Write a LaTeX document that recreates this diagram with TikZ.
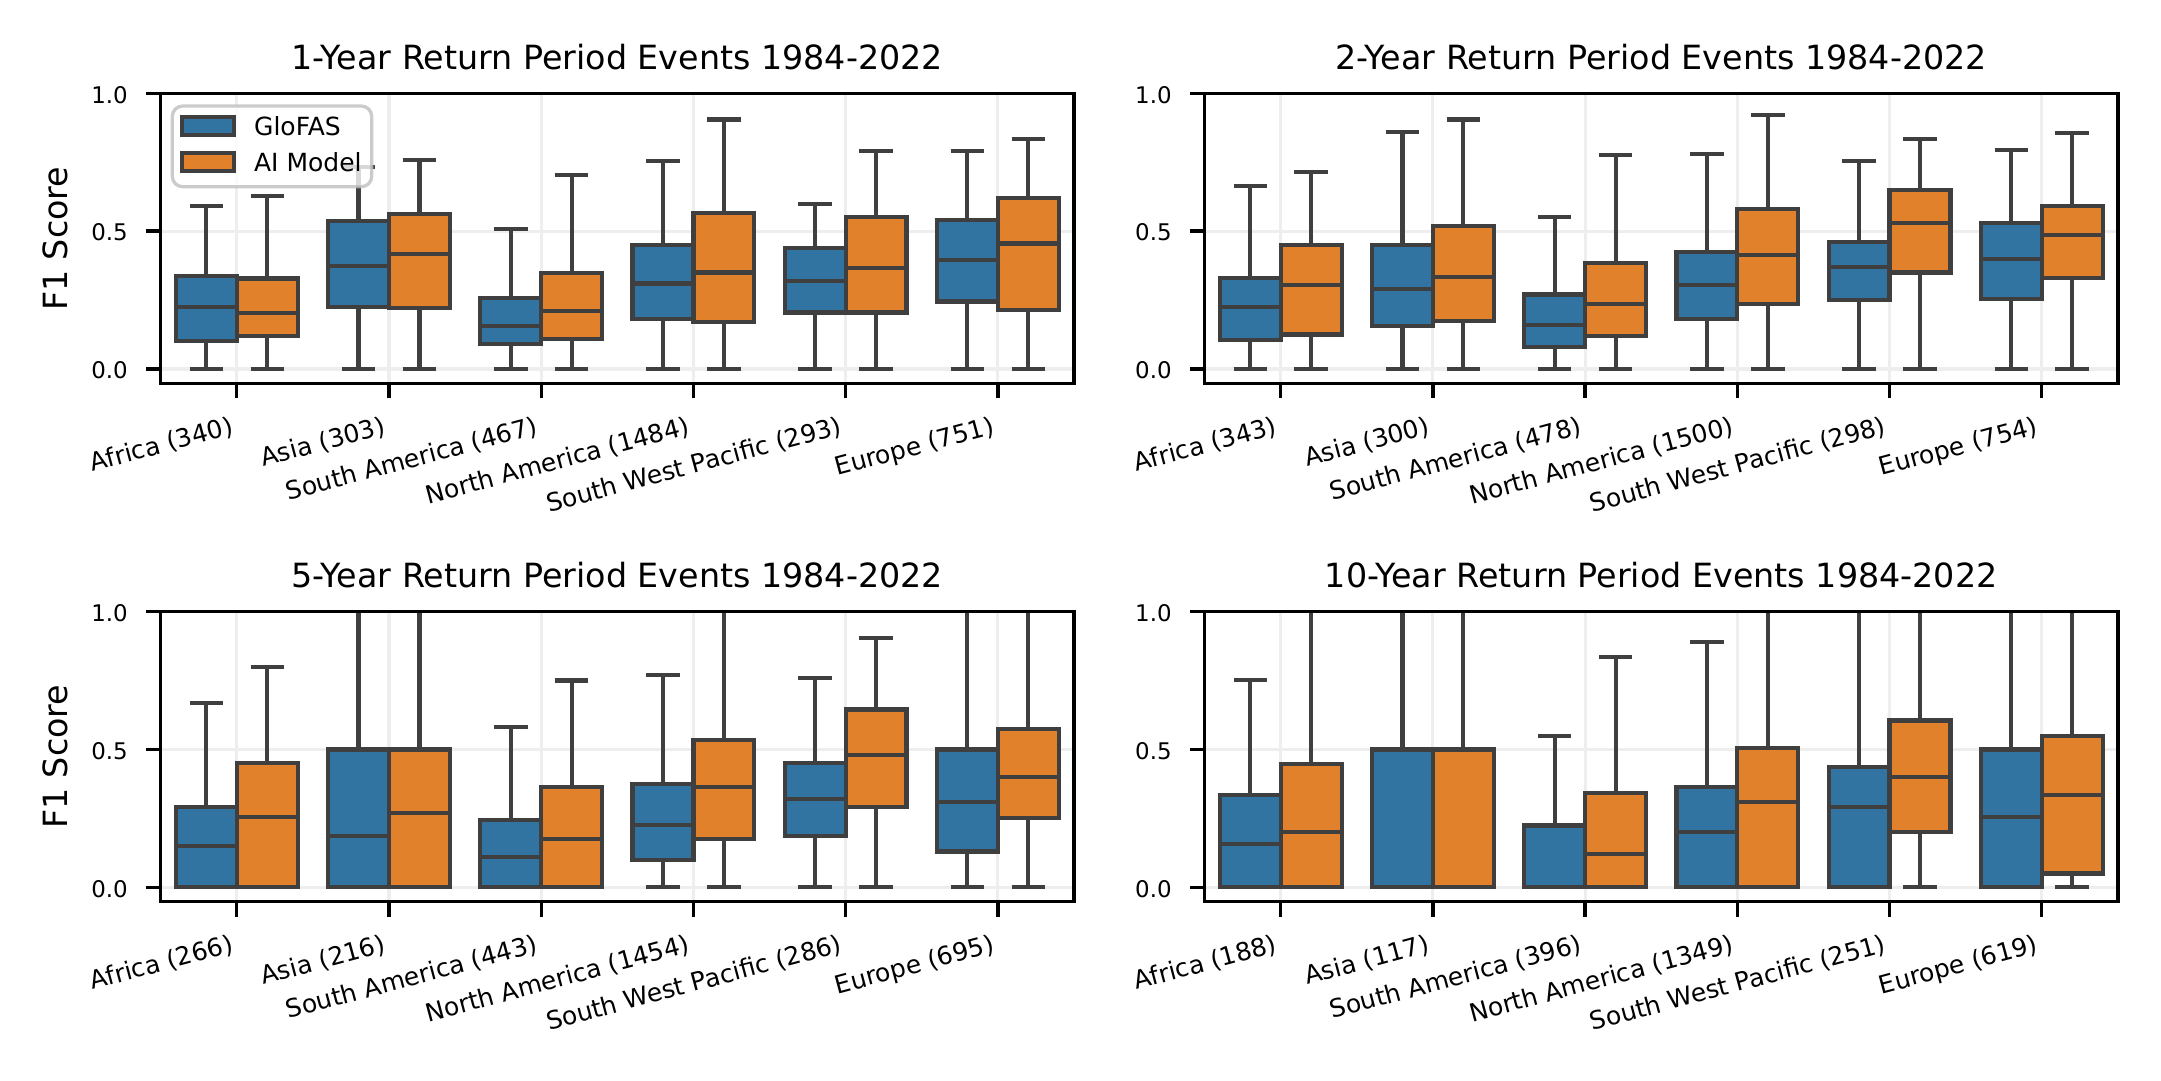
\documentclass[tikz,border=0pt]{standalone}
\usepackage{fontspec}
\setmainfont{DejaVu Sans}
\usetikzlibrary{positioning}
\definecolor{glofas}{HTML}{3274A1}
\definecolor{aimodel}{HTML}{E1812C}
\definecolor{boxline}{HTML}{3F3F3F}
\definecolor{gridline}{HTML}{EEEEEE}
\tikzset{
  spine/.style={black,line width=.8pt},
  gridrule/.style={gridline,line width=.75pt},
  boxrule/.style={boxline,line width=1pt},
  ticklab/.style={inner sep=0pt,font=\fontsize{5.5}{6}\selectfont},
  catlab/.style={inner sep=0pt,font=\fontsize{6}{7}\selectfont,rotate=15,anchor=north east},
  leglab/.style={inner sep=0pt,font=\fontsize{6}{7}\selectfont,anchor=base west},
  titlelab/.style={inner sep=0pt,anchor=base,font=\fontsize{8}{9}\selectfont},
  axislab/.style={inner sep=0pt,rotate=90,font=\fontsize{8}{9}\selectfont},
}
% one box: x, high, q3, median, q1, fill
\newcommand{\onebox}[6]{
  \draw[boxrule] (#1,0) -- (#1,#2);
  \draw[boxrule] (#1-.11,0) -- (#1+.11,0);
  \ifdim#2pt<1pt
    \draw[boxrule] (#1-.11,#2) -- (#1+.11,#2);
  \fi
  \draw[boxrule,fill=#6] (#1-.2,#5) rectangle (#1+.2,#3);
  \draw[boxrule] (#1-.2,#4) -- (#1+.2,#4);
}
% one panel: origin x, origin y, name, title, rows
\newcommand{\panel}[5]{
  \begin{scope}[shift={(#1,#2)},x=36.53pt,y=66.17pt]
    \foreach \c in {.5,1.5,...,5.5}
      \draw[gridrule] (\c,-.052) -- (\c,1);
    \foreach \v in {0,.5}
      \draw[gridrule] (0,\v) -- (6,\v);
    \foreach \c/\region/\ba/\bb/\bc/\bd/\oa/\ob/\oc/\od in {#5}{
      \onebox{\c-.2}{\ba}{\bb}{\bc}{\bd}{glofas}
      \onebox{\c+.2}{\oa}{\ob}{\oc}{\od}{aimodel}
      \draw[spine] (\c,-.052) -- ++(0,-.054);
      \node[catlab] (#3-\c) at ([xshift=-1.6pt]\c,-.164) {\region};
    }
    \foreach \v in {0.0,0.5,1.0}{
      \draw[spine] (0,\v) -- (-.098,\v);
      \node[ticklab,anchor=east] (#3-y\v) at (-.211,\v-.005) {\v};
    }
    \draw[spine] (0,-.052) rectangle (6,1);
    \node[titlelab] (#3-title) at (3,1.087) {#4};
  \end{scope}
}
\begin{document}
\begin{tikzpicture}[x=.24pt,y=-.24pt]
  \useasboundingbox (0,0) rectangle (2161,1080);
  \panel{160.7}{369}{one}{1-Year Return Period Events 1984-2022}{
    .5/Africa (340)/.591/.337/.226/.103/.628/.328/.204/.121,
    1.5/Asia (303)/.734/.537/.374/.226/.758/.562/.417/.22,
    2.5/South America (467)/.507/.259/.157/.09/.704/.347/.21/.109,
    3.5/North America (1484)/.755/.45/.31/.18/.905/.565/.35/.17,
    4.5/South West Pacific (293)/.60/.44/.32/.205/.79/.55/.365/.205,
    5.5/Europe (751)/.79/.54/.395/.245/.835/.62/.455/.215}
  \panel{1204.6}{369}{two}{2-Year Return Period Events 1984-2022}{
    .5/Africa (343)/.665/.33/.225/.105/.715/.45/.305/.125,
    1.5/Asia (300)/.86/.45/.29/.155/.905/.52/.335/.175,
    2.5/South America (478)/.55/.27/.16/.08/.775/.385/.235/.12,
    3.5/North America (1500)/.78/.425/.305/.18/.92/.58/.415/.235,
    4.5/South West Pacific (298)/.755/.46/.37/.25/.835/.65/.53/.35,
    5.5/Europe (754)/.795/.53/.40/.255/.855/.59/.485/.33}
  \panel{160.7}{887.3}{five}{5-Year Return Period Events 1984-2022}{
    .5/Africa (266)/.67/.29/.15/0/.80/.45/.255/0,
    1.5/Asia (216)/1/.5/.185/0/1/.5/.27/0,
    2.5/South America (443)/.58/.245/.11/0/.75/.365/.175/0,
    3.5/North America (1454)/.77/.375/.225/.10/1/.535/.365/.175,
    4.5/South West Pacific (286)/.76/.45/.32/.185/.905/.645/.48/.29,
    5.5/Europe (695)/1/.5/.31/.13/1/.575/.40/.25}
  \panel{1204.6}{887.3}{ten}{10-Year Return Period Events 1984-2022}{
    .5/Africa (188)/.752/.334/.157/0/1/.447/.20/0,
    1.5/Asia (117)/1/.5/0/0/1/.5/0/0,
    2.5/South America (396)/.549/.224/0/0/.836/.343/.121/0,
    3.5/North America (1349)/.89/.365/.20/0/1/.505/.31/0,
    4.5/South West Pacific (251)/1/.435/.29/0/1/.605/.40/.20,
    5.5/Europe (619)/1/.50/.255/0/1/.55/.335/.05}
  \node[axislab] (ylabtop) at (55,238.8) {F1 Score};
  \node[axislab] (ylabbot) at (55,756.8) {F1 Score};
  % legend
  \draw[rounded corners=2.5pt,draw=lightgray,line width=.8pt,fill=white,fill opacity=.8,draw opacity=.8] (172.3,106) rectangle (371.7,186.7);
  \draw[boxrule,fill=glofas] (182.3,116.7) rectangle (233.7,135.3);
  \draw[boxrule,fill=aimodel] (182.3,153.3) rectangle (233.7,171.3);
  \node[leglab] (legglo) at (253.3,135.7) {GloFAS};
  \node[leglab] (legai) at (253.3,171.3) {AI Model};
\end{tikzpicture}
\end{document}
